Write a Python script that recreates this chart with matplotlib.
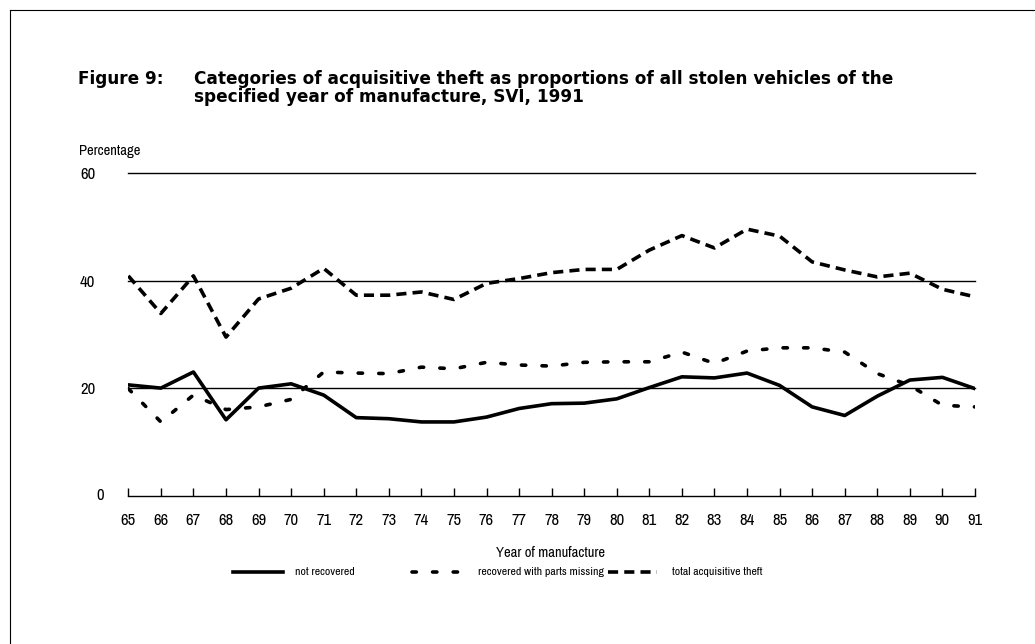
import matplotlib
matplotlib.use("Agg")
import matplotlib.pyplot as plt
from matplotlib.lines import Line2D
from matplotlib import font_manager

years = list(range(65, 92))
year_labels = [str(y) for y in years]
not_recovered = [20.6, 20.0, 23.0, 14.1, 20.0, 20.8, 18.7, 14.5, 14.3, 13.7, 13.7, 14.6, 16.2,
                 17.1, 17.2, 18.0, 20.1, 22.1, 21.9, 22.8, 20.5, 16.5, 14.9, 18.5, 21.5, 22.0, 19.9]
parts_missing = [19.9, 13.7, 18.7, 16.0, 16.5, 17.9, 23.0, 22.8, 22.7, 23.9, 23.6, 24.8, 24.3,
                 24.1, 24.8, 24.9, 24.9, 26.7, 24.6, 26.9, 27.5, 27.5, 26.7, 22.7, 20.5, 16.8, 16.5]
total_theft = [40.9, 33.9, 40.9, 29.5, 36.6, 38.6, 42.3, 37.3, 37.3, 37.9, 36.5, 39.5, 40.4,
               41.5, 42.1, 42.1, 45.7, 48.4, 46.1, 49.6, 48.3, 43.5, 42.0, 40.7, 41.4, 38.4, 37.0]
y_ticks = [0, 20, 40, 60]
series_names = ["not recovered", "recovered with parts missing", "total acquisitive theft"]

names = {f.name for f in font_manager.fontManager.ttflist}
NARROW = "Archivo Narrow" if "Archivo Narrow" in names else "Liberation Sans"
TITLE = "DejaVu Sans"

fig = plt.figure(figsize=(10.35, 6.44), dpi=100)
W, H = 1035, 644

def fx(px):
    return px / W

def fy(py):
    return 1 - py / H

# outer frame (left and top edges)
fig.add_artist(Line2D([fx(10), fx(10)], [fy(10), fy(644)], transform=fig.transFigure,
                      color="black", lw=0.8))
fig.add_artist(Line2D([fx(10), fx(1035)], [fy(10), fy(10)], transform=fig.transFigure,
                      color="black", lw=0.8))

left, right, top, bottom = 128.3, 975.0, 173.3, 495.5
ax = fig.add_axes([fx(left), fy(bottom), fx(right - left), (bottom - top) / H])
ax.set_xlim(65, 91)
ax.set_ylim(0, 60)
for s in ax.spines.values():
    s.set_visible(False)

for yv in y_ticks:
    ax.axhline(yv, color="black", lw=1.0, zorder=1, clip_on=False)

fs_tick = 12
ax.set_xticks(years)
ax.set_xticklabels(year_labels, fontfamily=NARROW, fontsize=fs_tick)
ax.tick_params(axis="x", direction="in", length=6, width=1.0, pad=12.5, color="black")
ax.set_yticks(y_ticks)
ax.set_yticklabels([""] + [str(v) for v in y_ticks[1:]], fontfamily=NARROW,
                   fontsize=fs_tick, ha="left")
ax.tick_params(axis="y", length=0, pad=(left - 80) * 0.72)
ax.text(-28.3 / (right - left), 0, str(y_ticks[0]), transform=ax.get_yaxis_transform(),
        fontfamily=NARROW, fontsize=fs_tick, ha="center", va="center")

lw = 2.6
dotted = (0, (1.2, 4.5))
dashed = (0, (2.8, 1.7))
ax.plot(years, not_recovered, color="black", lw=lw, zorder=3)
ax.plot(years, parts_missing, color="black", lw=lw, linestyle=dotted,
        dash_capstyle="round", zorder=3)
ax.plot(years, total_theft, color="black", lw=lw, linestyle=dashed, zorder=3)

# title
tf = dict(fontfamily=TITLE, fontweight="bold", fontsize=12.2, va="baseline")
fig.text(fx(78), fy(84), "Figure 9:", **tf)
fig.text(fx(194), fy(84), "Categories of acquisitive theft as proportions of all stolen vehicles of the", **tf)
fig.text(fx(194), fy(102), "specified year of manufacture, SVI, 1991", **tf)

fs_lab = 10.5
fig.text(fx(79), fy(151), "Percentage", fontfamily=NARROW, fontsize=fs_lab, va="center")
fig.text(fx(551), fy(553), "Year of manufacture", fontfamily=NARROW, fontsize=fs_lab,
         va="center", ha="center")

# legend
legend_items = [
    (233, 283, 295, dict(linestyle="-")),
    (412, 462, 478, dict(linestyle=dotted, dash_capstyle="round")),
    (608, 657, 672, dict(linestyle=dashed)),
]
ly = fy(572)
for (x0, x1, tx, style), name in zip(legend_items, series_names):
    fig.add_artist(Line2D([fx(x0), fx(x1)], [ly, ly], transform=fig.transFigure,
                          color="black", lw=lw, **style))
    fig.text(fx(tx), ly, name, fontfamily=NARROW, fontsize=8.5, va="center")

fig.savefig("out.png", dpi=100)
